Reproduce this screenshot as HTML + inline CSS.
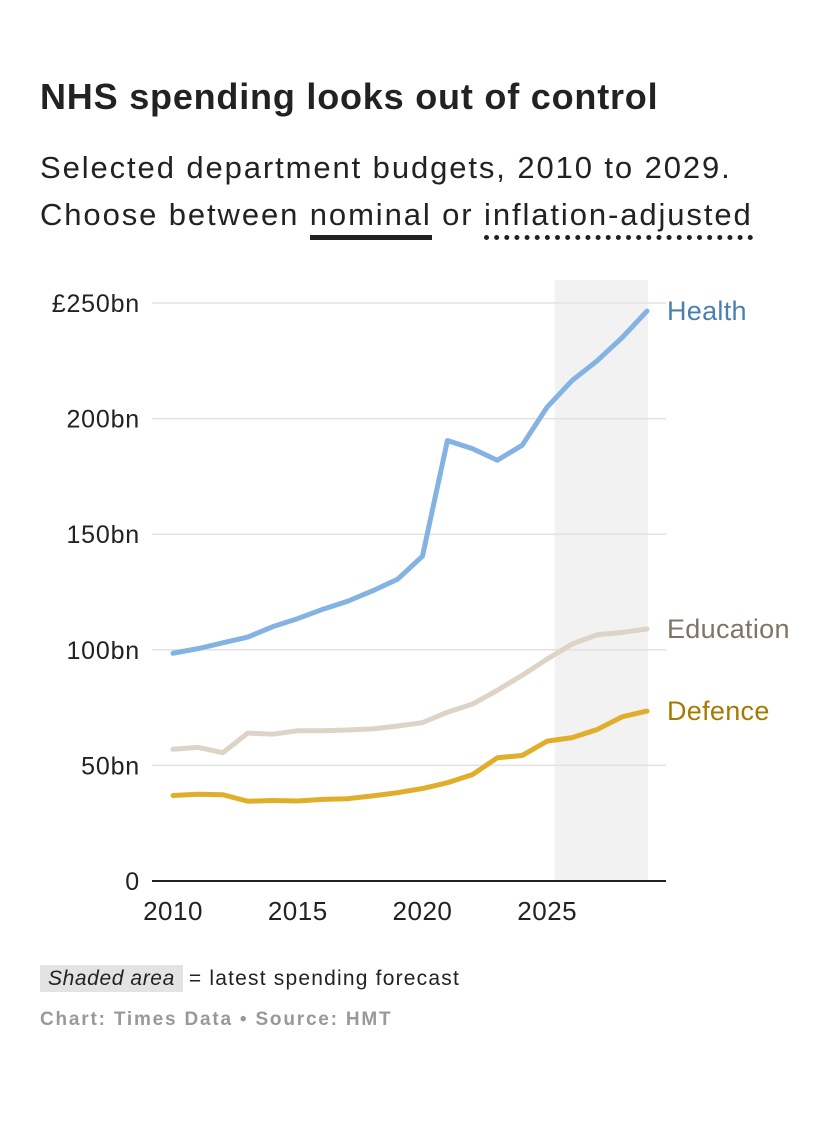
<!DOCTYPE html>
<html><head><meta charset="utf-8">
<style>
body{margin:0;background:#fff;font-family:"Liberation Sans",sans-serif;color:#222;}
#wrap{position:relative;width:840px;height:1126px;}
h1{position:absolute;left:40px;top:76px;margin:0;font-size:36px;font-weight:bold;color:#222;letter-spacing:0.8px;white-space:nowrap}
.sub{position:absolute;left:40px;top:144px;font-size:31px;line-height:47px;color:#222;letter-spacing:1.9px;white-space:nowrap}
.u1{border-bottom:5px solid #222;padding-bottom:3px}
.u2{border-bottom:5px dotted #222;padding-bottom:3px}
.legend{position:absolute;left:40px;top:967px;font-size:21px;color:#222;letter-spacing:1.2px;white-space:nowrap}
.legend span.sh{background:#e3e3e3;font-style:italic;padding:2px 8px;margin-right:6px;letter-spacing:0.6px}
.src{position:absolute;left:40px;top:1009px;font-size:19px;color:#999;font-weight:bold;letter-spacing:1.8px;white-space:nowrap}
</style></head><body>
<div id="wrap">
<h1>NHS spending looks out of control</h1>
<div class="sub">Selected department budgets, 2010 to 2029.<br>Choose between <span class="u1">nominal</span> or <span class="u2">inflation-adjusted</span></div>
<svg id="chart" width="840" height="940" style="position:absolute;left:0;top:0"></svg>
<div class="legend"><span class="sh">Shaded area</span>= latest spending forecast</div>
<div class="src">Chart: Times Data • Source: HMT</div>
</div>
<script>
const years=[2010,2011,2012,2013,2014,2015,2016,2017,2018,2019,2020,2021,2022,2023,2024,2025,2026,2027,2028,2029];
const health=[98.5,100.5,103,105.5,110,113.5,117.5,121,125.5,130.5,140.5,190.5,187,182,188.5,205,216.5,225,235,246.5];
const education=[57,57.8,55.5,64,63.5,65,65,65.3,65.8,67,68.5,73,76.5,82.5,89,96,102.5,106.5,107.5,109];
const defence=[37,37.5,37.3,34.5,34.8,34.6,35.3,35.6,36.8,38.2,40,42.5,46,53.3,54.3,60.5,62,65.5,71,73.5];
const yTicks=[0,50,100,150,200,250];
const yTickLabels=["0","50bn","100bn","150bn","200bn","£250bn"];
const xTicks=[2010,2015,2020,2025];
const forecastStart=2025.3;
const NS="http://www.w3.org/2000/svg";
const svg=document.getElementById('chart');
const x=v=>173+(v-2010)*(647-173)/19;
const y=v=>881-v*(881-303)/250;
function mk(t,a){const e=document.createElementNS(NS,t);for(const k in a)e.setAttribute(k,a[k]);svg.appendChild(e);return e;}
let r=mk('rect',{x:x(forecastStart),y:280,width:x(2029)+1-x(forecastStart),height:601,fill:'#f2f2f2'});


yTicks.forEach((t,i)=>{
  if(t>0){const g=mk('line',{x1:152,x2:666,y1:y(t),y2:y(t),stroke:'#e2e2e2','stroke-width':1.5});
  
  }
  const l=mk('text',{x:140,y:y(t)+9,'text-anchor':'end','font-size':25,fill:'#222','letter-spacing':0.8,'font-family':'Liberation Sans, sans-serif'});
  l.textContent=yTickLabels[i];
  
  
});
const ax=mk('line',{x1:152,x2:666,y1:881,y2:881,stroke:'#222','stroke-width':2});


xTicks.forEach(t=>{
  const l=mk('text',{x:x(t),y:920,'text-anchor':'middle','font-size':26,fill:'#222','letter-spacing':0.5,'font-family':'Liberation Sans, sans-serif'});
  l.textContent=t;
  
  
});
function series(vals,color,label,lc,name){
  const p=mk('polyline',{points:vals.map((v,i)=>x(years[i])+','+y(v)).join(' '),fill:'none',stroke:color,'stroke-width':5,'stroke-linejoin':'round','stroke-linecap':'round'});
  
  
  const t=mk('text',{x:667,y:y(vals[vals.length-1])+9,'font-size':27,fill:lc,'letter-spacing':0.3,'font-family':'Liberation Sans, sans-serif'});
  t.textContent=label;
  
  
}
series(education,'#ddd3c7','Education','#7f7466','education');
series(defence,'#e0ae2a','Defence','#a67a00','defence');
series(health,'#84b2e3','Health','#4a7fb4','health');
</script>
</body></html>
